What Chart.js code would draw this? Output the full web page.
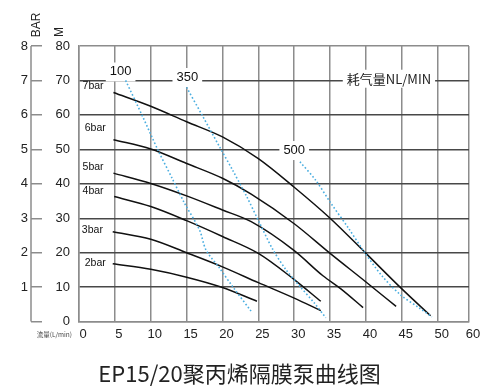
<!DOCTYPE html>
<html>
<head>
<meta charset="utf-8">
<script src="https://cdn.jsdelivr.net/npm/chart.js@4.4.1/dist/chart.umd.min.js"></script>
<style>
  html, body { margin: 0; padding: 0; background: #fff; }
</style>
</head>
<body>
<canvas id="chart1" width="500" height="391"></canvas>
<script>
// pump curves: flow (L/min) vs head (M), one pair per inlet pressure
const flow7 = [4.8, 10, 15, 20, 25, 30, 35, 40, 45, 49];
const head7 = [66.5, 62.5, 58, 53.6, 47.3, 39, 30, 19.8, 9.5, 1.7];
const flow6 = [4.8, 10, 15, 20, 24, 30, 35, 40, 44.2];
const head6 = [52.8, 50.1, 45.9, 41.6, 37, 28.4, 19.8, 11.5, 4.4];
const flow5 = [4.8, 10, 15, 20, 24, 30, 34, 36.5, 39.6];
const head5 = [43.1, 40.1, 36.5, 32.4, 29, 20.6, 13.3, 9.5, 4.05];
const flow4 = [4.9, 10, 15, 20, 25, 30, 33.7];
const head4 = [36.3, 33.4, 29.3, 24.7, 19.8, 12.2, 5.9];
const flow3 = [4.7, 10, 15, 20, 25, 30, 33.7];
const head3 = [26.1, 23.9, 20, 15.9, 11.3, 6.8, 3.2];
const flow2 = [4.7, 10, 15, 20, 24.8];
const head2 = [16.8, 15.2, 12.9, 9.9, 5.9];

// air consumption lines (NL/MIN)
const air100Flow = [6.5, 8.9, 11, 13.1, 14.7, 16.8, 17.7, 19.6, 21.4, 24];
const air100Head = [70, 59.4, 49.8, 41.1, 34.4, 26.6, 20.8, 15.5, 10.2, 3];
const air350Flow = [15, 17.3, 19.6, 21.4, 23.4, 25.2, 27, 28.8, 30.8, 32.8, 34.4];
const air350Head = [68, 59.4, 50.7, 44, 36.2, 28.5, 21, 15.2, 10.2, 5.4, 1.1];
const air500Flow = [30.8, 33, 35.1, 37.6, 39.7, 42.3, 44.8, 47.4, 49.2];
const air500Head = [46.4, 41, 34.4, 27, 20.4, 13.1, 7.8, 4, 1.4];

const curveNames = ['7bar', '6bar', '5bar', '4bar', '3bar', '2bar'];
const airNames = ['100', '350', '500'];
const airTitle = '耗气量NL/MIN';

const xMax = 54.36;
const xTickValues = [0, 5, 10, 15, 20, 25, 30, 35, 40, 45, 50, xMax];
const xTickLabels = ['0', '5', '10', '15', '20', '25', '30', '35', '40', '45', '50', '60'];

// where the text labels sit, in data units
const curveNamePos = [[0.5, 68.3], [0.8, 56.2], [0.5, 44.9], [0.5, 37.9], [0.4, 26.7], [0.8, 17]];
const airNamePos = [[5.8, 72.6], [15.1, 71.0], [30.0, 49.8]];
const airTitlePos = [43.2, 70.5];

const tickFont = { family: '"Liberation Sans", Arial, sans-serif', size: 13 };
const gridGray = '#8c8c8c';

function toPoints(xs, ys) {
  return xs.map((v, i) => ({ x: v, y: ys[i] }));
}

function pumpLine(xs, ys) {
  return {
    data: toPoints(xs, ys),
    borderColor: '#111',
    borderWidth: 1.5,
    pointRadius: 0,
    cubicInterpolationMode: 'monotone',
    fill: false
  };
}

function airLine(xs, ys) {
  return {
    data: toPoints(xs, ys),
    borderColor: '#4aaee0',
    borderWidth: 1.6,
    borderDash: [1.6, 2.2],
    pointRadius: 0,
    tension: 0.3,
    fill: false
  };
}

const extraText = {
  id: 'extraText',
  beforeDatasetsDraw(chart) {
    const c = chart.ctx;
    const x = chart.scales.x;
    const y = chart.scales.y;
    c.save();
    c.textBaseline = 'middle';

    // air labels sit on a white patch that hides the grid
    c.font = '13px "Liberation Sans", Arial, sans-serif';
    c.textAlign = 'center';
    airNames.forEach((name, i) => {
      const px = x.getPixelForValue(airNamePos[i][0]);
      const py = y.getPixelForValue(airNamePos[i][1]);
      const w = c.measureText(name).width + 8;
      c.fillStyle = '#fff';
      c.fillRect(px - w / 2, py - 9, w, 19);
      c.fillStyle = '#111';
      c.fillText(name, px, py);
    });

    c.font = '13px "Noto Sans CJK SC", sans-serif';
    const tx = x.getPixelForValue(airTitlePos[0]);
    const ty = y.getPixelForValue(airTitlePos[1]);
    const tw = c.measureText(airTitle).width + 8;
    c.fillStyle = '#fff';
    c.fillRect(tx - tw / 2, ty - 9, tw, 18);
    c.fillStyle = '#222';
    c.fillText(airTitle, tx, ty);

    c.font = '10.5px "Liberation Sans", Arial, sans-serif';
    c.textAlign = 'left';
    c.fillStyle = '#111';
    curveNames.forEach((name, i) => {
      c.fillText(name, x.getPixelForValue(curveNamePos[i][0]), y.getPixelForValue(curveNamePos[i][1]));
    });
    c.restore();
  },
  afterDraw(chart) {
    const c = chart.ctx;
    const bar = chart.scales.bar;
    const area = chart.chartArea;
    c.save();

    // BAR axis spine, left of its tick marks
    const lx = bar.right - 11;
    c.strokeStyle = gridGray;
    c.lineWidth = 1.5;
    c.beginPath();
    c.moveTo(lx, bar.getPixelForValue(8));
    c.lineTo(lx, bar.getPixelForValue(0));
    c.stroke();

    c.fillStyle = '#222';
    c.textAlign = 'center';
    c.textBaseline = 'middle';
    c.font = '12px "Liberation Sans", Arial, sans-serif';
    c.save();
    c.translate(lx + 6, area.top - 21);
    c.rotate(-Math.PI / 2);
    c.fillText('BAR', 0, 0);
    c.restore();
    c.save();
    c.translate(area.left - 19.5, area.top - 14);
    c.rotate(-Math.PI / 2);
    c.fillText('M', 0, 0);
    c.restore();

    c.font = '6.5px "Noto Sans CJK SC", sans-serif';
    c.textAlign = 'right';
    c.fillStyle = '#444';
    c.fillText('流量(L/min)', area.left - 7, area.bottom + 13);
    c.restore();
  }
};

const ctx1 = document.getElementById('chart1');

new Chart(ctx1, {
  type: 'line',
  data: {
    datasets: [
      airLine(air100Flow, air100Head),
      airLine(air350Flow, air350Head),
      airLine(air500Flow, air500Head),
      pumpLine(flow7, head7),
      pumpLine(flow6, head6),
      pumpLine(flow5, head5),
      pumpLine(flow4, head4),
      pumpLine(flow3, head3),
      pumpLine(flow2, head2)
    ]
  },
  options: {
    responsive: false,
    animation: false,
    layout: {
      padding: { left: 10, right: 31, top: 46, bottom: 0 }
    },
    scales: {
      x: {
        type: 'linear',
        min: 0,
        max: xMax,
        afterBuildTicks: (s) => { s.ticks = xTickValues.map(v => ({ value: v })); },
        afterFit: (s) => { s.height = 28; },
        ticks: {
          callback: (v, i) => xTickLabels[i],
          font: tickFont,
          color: '#222',
          padding: 5,
          labelOffset: 4,
          maxRotation: 0,
          autoSkip: false
        },
        grid: { color: gridGray, lineWidth: 1.5, drawTicks: false },
        border: { color: gridGray, width: 1.5 }
      },
      y: {
        position: 'left',
        weight: 0,
        min: 0,
        max: 80,
        afterFit: (s) => { s.width = 37; },
        ticks: { stepSize: 10, padding: 9, font: tickFont, color: '#222' },
        grid: {
          color: (c) => (c.tick && (c.tick.value === 0 || c.tick.value === 80)) ? gridGray : '#484848',
          lineWidth: 1.5,
          drawTicks: false
        },
        border: { color: gridGray, width: 1.5 }
      },
      bar: {
        position: 'left',
        weight: 1,
        min: 0,
        max: 8,
        afterFit: (s) => { s.width = 32; },
        ticks: {
          stepSize: 1,
          padding: 3,
          font: tickFont,
          color: '#222',
          callback: (v) => v === 0 ? '' : v
        },
        grid: { drawOnChartArea: false, tickLength: 11, color: gridGray, lineWidth: 1.5 },
        border: { display: false }
      }
    },
    plugins: {
      legend: { display: false },
      tooltip: { enabled: false },
      title: {
        display: true,
        text: 'EP15/20聚丙烯隔膜泵曲线图',
        position: 'bottom',
        color: '#222',
        font: { family: '"Noto Sans CJK SC", sans-serif', size: 22, weight: 'normal' },
        padding: { top: 11, bottom: 4 }
      }
    }
  },
  plugins: [extraText]
});
</script>
</body>
</html>
